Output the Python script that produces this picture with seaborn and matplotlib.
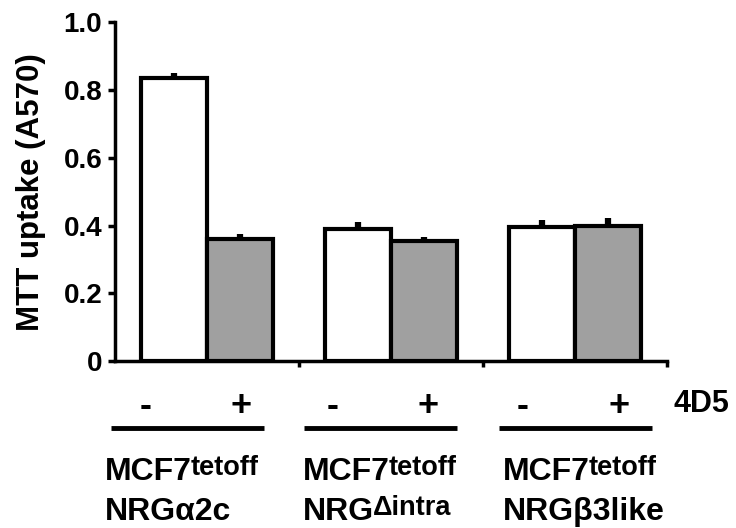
import numpy as np
import pandas as pd
import seaborn as sns
import matplotlib.pyplot as plt

# data
cell_lines = ["NRGα2c", "NRGΔintra", "NRGβ3like"]
treatments = ["-", "+"]  # 4D5 absent / present
mtt_mean = [0.835, 0.36, 0.39, 0.355, 0.395, 0.40]
mtt_err = [0.014, 0.016, 0.020, 0.012, 0.022, 0.022]
label_main = ["NRGα2c", "NRG", "NRGβ3like"]
label_sup = ["", "Δintra", ""]

sns.set_theme(style="ticks")
plt.rcParams["font.family"] = ["Liberation Sans", "DejaVu Sans"]
plt.rcParams["font.weight"] = "bold"
for key in ("text.color", "axes.labelcolor", "xtick.color", "ytick.color",
            "axes.edgecolor"):
    plt.rcParams[key] = "black"

df = pd.DataFrame({
    "line": np.repeat(cell_lines, len(treatments)),
    "treat": treatments * len(cell_lines),
    "mtt": mtt_mean,
})

fig = plt.figure(figsize=(7.36, 5.28), dpi=100)
ax = fig.add_axes([0.156, 0.316, 0.75, 0.642])

sns.barplot(data=df, x="line", y="mtt", hue="treat", order=cell_lines,
            hue_order=treatments, palette=["white", "#a0a0a0"],
            edgecolor="black", linewidth=3, width=0.72, gap=0,
            errorbar=None, legend=False, ax=ax)

# upward-only error bars, placed on the seaborn bars (sorted left to right)
bars = sorted(ax.patches, key=lambda p: p.get_x())
xs = [p.get_x() + p.get_width() / 2 for p in bars]
ys = [p.get_height() for p in bars]
ax.errorbar(xs, ys, yerr=[np.zeros(len(mtt_err)), mtt_err], fmt="none",
            ecolor="black", elinewidth=4.5, capsize=0, zorder=1)

ax.set_xlim(-0.5, 2.5)
ax.set_ylim(0, 1.0)
ax.set_yticks([0, 0.2, 0.4, 0.6, 0.8, 1.0])
ax.set_yticklabels(["0", "0.2", "0.4", "0.6", "0.8", "1.0"])
ax.set_xticks([0.5, 1.5, 2.5])
ax.set_xticklabels([])
ax.set_xlabel("")
ax.set_ylabel("MTT uptake (A570)", fontsize=22.5, fontweight="bold", labelpad=13)
ax.tick_params(axis="y", labelsize=20, length=5, width=2.5, pad=4)
ax.tick_params(axis="x", length=4, width=2.5)
for lab in ax.get_yticklabels():
    lab.set_fontweight("bold")
sns.despine(ax=ax)
for s in ("left", "bottom"):
    ax.spines[s].set_linewidth(2.5)

# annotation below the axis (axes-fraction layout)
tr = ax.transAxes
minus_x = [0.056, 0.395, 0.739]
plus_x = [0.228, 0.567, 0.913]
line_x = [(-0.007, 0.271), (0.342, 0.620), (0.696, 0.973)]
label_x = [-0.018, 0.341, 0.703]


def sup_text(x, y, main, sup):
    t = ax.text(x, y, main, transform=tr, ha="left", va="baseline",
                fontsize=23, fontweight="bold")
    if sup:
        ax.annotate(sup, xy=(1, 0), xycoords=t, xytext=(-1, 9),
                    textcoords="offset points", ha="left", va="baseline",
                    fontsize=19.5, fontweight="bold")


for i in range(len(cell_lines)):
    ax.text(minus_x[i], -0.133, treatments[0], transform=tr, ha="center",
            va="center", fontsize=26, fontweight="bold")
    ax.text(plus_x[i], -0.133, treatments[1], transform=tr, ha="center",
            va="center", fontsize=26, fontweight="bold")
    ax.plot(line_x[i], [-0.198, -0.198], transform=tr, color="black",
            lw=3.5, clip_on=False, solid_capstyle="butt")
    sup_text(label_x[i], -0.351, "MCF7", "tetoff")
    sup_text(label_x[i], -0.469, label_main[i], label_sup[i])
ax.text(1.013, -0.125, "4D5", transform=tr, ha="left", va="center",
        fontsize=22, fontweight="bold")

plt.savefig("out.png", dpi=100)
